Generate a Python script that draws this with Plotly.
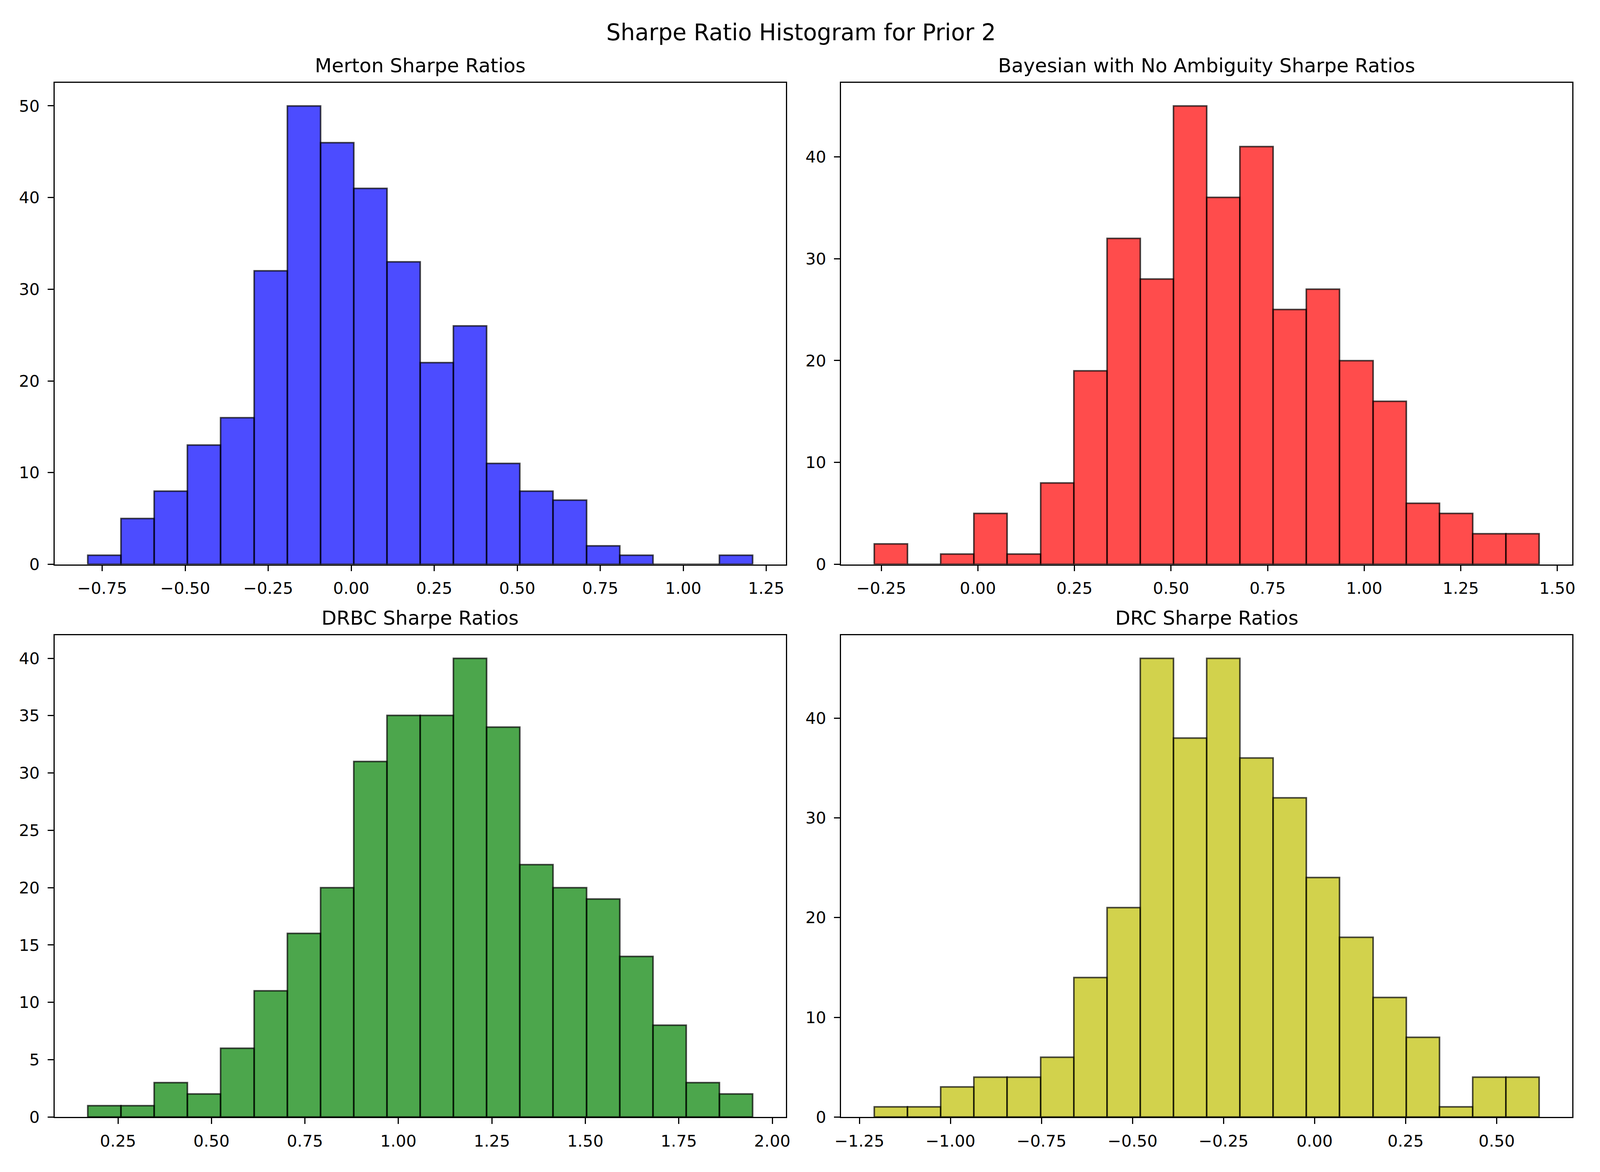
import numpy as np
import plotly.graph_objects as go

# ---------------- data ----------------
titles = ["Merton Sharpe Ratios", "Bayesian with No Ambiguity Sharpe Ratios",
          "DRBC Sharpe Ratios", "DRC Sharpe Ratios"]
suptitle = "Sharpe Ratio Histogram for Prior 2"

# histogram ranges (min, max of sample) and 20-bin counts
merton_range = (-0.7935, 1.209)
merton_counts = [1, 5, 8, 13, 16, 32, 50, 46, 41, 33, 22, 26, 11, 8, 7, 2, 1, 0, 0, 1]

bayes_range = (-0.268, 1.4528)
bayes_counts = [2, 0, 1, 5, 1, 8, 19, 32, 28, 45, 36, 41, 25, 27, 20, 16, 6, 5, 3, 3]

drbc_range = (0.1691, 1.9474)
drbc_counts = [1, 1, 3, 2, 6, 11, 16, 20, 31, 35, 35, 40, 34, 22, 20, 19, 14, 8, 3, 2]

drc_range = (-1.2092, 0.6165)
drc_counts = [1, 1, 3, 4, 4, 6, 14, 21, 46, 38, 46, 36, 32, 24, 18, 12, 8, 1, 4, 4]

# tick labels
merton_xticks = [-0.75, -0.50, -0.25, 0.00, 0.25, 0.50, 0.75, 1.00, 1.25]
merton_xlabels = ["−0.75", "−0.50", "−0.25", "0.00", "0.25", "0.50", "0.75", "1.00", "1.25"]
merton_yticks = [0, 10, 20, 30, 40, 50]

bayes_xticks = [-0.25, 0.00, 0.25, 0.50, 0.75, 1.00, 1.25, 1.50]
bayes_xlabels = ["−0.25", "0.00", "0.25", "0.50", "0.75", "1.00", "1.25", "1.50"]
bayes_yticks = [0, 10, 20, 30, 40]

drbc_xticks = [0.25, 0.50, 0.75, 1.00, 1.25, 1.50, 1.75, 2.00]
drbc_xlabels = ["0.25", "0.50", "0.75", "1.00", "1.25", "1.50", "1.75", "2.00"]
drbc_yticks = [0, 5, 10, 15, 20, 25, 30, 35, 40]

drc_xticks = [-1.25, -1.00, -0.75, -0.50, -0.25, 0.00, 0.25, 0.50]
drc_xlabels = ["−1.25", "−1.00", "−0.75", "−0.50", "−0.25", "0.00", "0.25", "0.50"]
drc_yticks = [0, 10, 20, 30, 40]

colors = ["rgba(0,0,255,0.7)", "rgba(255,0,0,0.7)", "rgba(0,128,0,0.7)", "rgba(191,191,0,0.7)"]
edge_color = "rgba(0,0,0,0.7)"

# ---------------- layout geometry ----------------
W, H = 4200, 3000
xdoms = [[126.7 / W, 2060 / W], [2206 / W, 4139.3 / W]]
ydoms = [[1 - 1456.7 / H, 1 - 214 / H], [1 - 2883.3 / H, 1 - 1640 / H]]

FONT = "DejaVu Sans"
TICK_FS = 41.7
TITLE_FS = 50
SUP_FS = 58
LW = 3.33
TL = 14.6

panels = [
    (merton_range, merton_counts, merton_xticks, merton_xlabels, merton_yticks),
    (bayes_range, bayes_counts, bayes_xticks, bayes_xlabels, bayes_yticks),
    (drbc_range, drbc_counts, drbc_xticks, drbc_xlabels, drbc_yticks),
    (drc_range, drc_counts, drc_xticks, drc_xlabels, drc_yticks),
]

fig = go.Figure()
annotations = []
layout_axes = {}

for i, (rng, counts, xt, xl, yt) in enumerate(panels):
    row, col = divmod(i, 2)
    n = len(counts)
    edges = np.linspace(rng[0], rng[1], n + 1)
    centers = (edges[:-1] + edges[1:]) / 2
    width = edges[1] - edges[0]
    xa = "x" if i == 0 else f"x{i+1}"
    ya = "y" if i == 0 else f"y{i+1}"
    fig.add_trace(go.Bar(
        x=centers, y=counts, width=width,
        marker=dict(color=colors[i], line=dict(color=edge_color, width=4)),
        xaxis=xa, yaxis=ya, showlegend=False, hoverinfo="x+y",
    ))
    span = rng[1] - rng[0]
    xr = [rng[0] - 0.05 * span, rng[1] + 0.05 * span]
    yr = [0, max(counts) * 1.05]
    axcommon = dict(showline=True, linecolor="black", linewidth=LW, mirror=True,
                    ticks="outside", ticklen=TL, tickwidth=LW, tickcolor="black",
                    showgrid=False, zeroline=False,
                    tickfont=dict(family=FONT, size=TICK_FS, color="black"))
    xkey = "xaxis" if i == 0 else f"xaxis{i+1}"
    ykey = "yaxis" if i == 0 else f"yaxis{i+1}"
    layout_axes[xkey] = dict(domain=xdoms[col], range=xr, anchor=ya,
                             tickmode="array", tickvals=xt, ticktext=xl,
                             ticklabelstandoff=8, **axcommon)
    layout_axes[ykey] = dict(domain=ydoms[row], range=yr, anchor=xa,
                             tickmode="array", tickvals=yt,
                             ticktext=[str(v) for v in yt],
                             ticklabelstandoff=12, **axcommon)
    annotations.append(dict(
        text=titles[i], xref="paper", yref="paper",
        x=(xdoms[col][0] + xdoms[col][1]) / 2, y=ydoms[row][1],
        xanchor="center", yanchor="bottom", yshift=13, showarrow=False,
        font=dict(family=FONT, size=TITLE_FS, color="black"),
    ))

annotations.append(dict(
    text=suptitle, xref="paper", yref="paper", x=0.5, y=1 - 120 / H,
    xanchor="center", yanchor="bottom", showarrow=False,
    font=dict(family=FONT, size=SUP_FS, color="black"),
))

fig.update_layout(
    width=W, height=H, autosize=False,
    margin=dict(l=0, r=0, t=0, b=0),
    paper_bgcolor="white", plot_bgcolor="white",
    bargap=0, annotations=annotations,
    font=dict(family=FONT, color="black"),
    **layout_axes,
)

post = (
    "document.documentElement.style.margin='0';"
    "document.documentElement.style.overflow='hidden';"
    "document.body.style.margin='0';document.body.style.padding='0';"
    "document.body.style.overflow='hidden';"
    "var gd=document.getElementById('{plot_id}');"
    "var w=document.documentElement.clientWidth||window.innerWidth;"
    "var h=document.documentElement.clientHeight||window.innerHeight;"
    "gd.style.width=w+'px';gd.style.height=h+'px';"
    "Plotly.relayout(gd,{width:w,height:h});"
)

fig.write_html("out.html", config={"displayModeBar": False}, post_script=post)
